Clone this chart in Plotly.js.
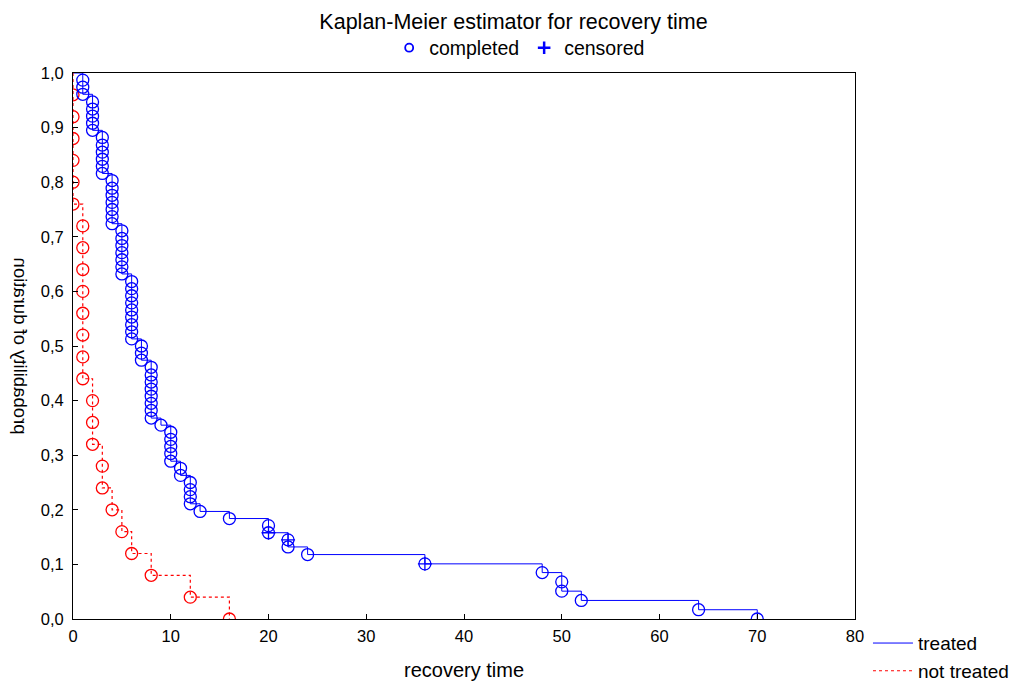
<!DOCTYPE html>
<html><head><meta charset="utf-8">
<script src="https://cdn.plot.ly/plotly-3.0.1.min.js"></script>
<style>body{margin:0;background:#fff}</style>
</head><body>
<div id="chart" style="width:1025px;height:681px"></div>
<script>
// Treated group: time of each completed recovery and survival value after it
const treatedTime = [1,1,1, 2,2,2,2,2, 3,3,3,3,3,3, 4,4,4,4,4,4,4, 5,5,5,5,5,5,5,
  6,6,6,6,6,6,6,6,6, 7,7,7, 8,8,8,8,8,8,8,8, 9, 10,10,10,10,10, 11,11, 12,12,12,12, 13,
  16, 20,20, 22,22, 24, 36, 48, 50,50, 52, 64, 70];
const treatedSurv = [0.987,0.974,0.961, 0.947,0.934,0.921,0.908,0.895,
  0.882,0.868,0.855,0.842,0.829,0.816, 0.803,0.789,0.776,0.763,0.750,0.737,0.724,
  0.711,0.697,0.684,0.671,0.658,0.645,0.632,
  0.618,0.605,0.592,0.579,0.566,0.553,0.539,0.526,0.513, 0.500,0.487,0.474,
  0.461,0.447,0.434,0.421,0.408,0.395,0.382,0.368, 0.355,
  0.342,0.329,0.316,0.303,0.289, 0.276,0.263, 0.250,0.237,0.224,0.211, 0.197,
  0.184, 0.171,0.158, 0.145,0.132, 0.118, 0.101, 0.085, 0.068,0.051, 0.034, 0.017, 0.000];
// Treated group: censored marks
const censTime = [20, 22, 36];
const censSurv = [0.158, 0.145, 0.101];
// Not treated group
const notTreatedTime = [0,0,0,0,0,0, 1,1,1,1,1,1,1,1, 2,2,2, 3,3, 4, 5, 6, 8, 12, 16];
const notTreatedSurv = [0.96,0.92,0.88,0.84,0.80,0.76, 0.72,0.68,0.64,0.60,0.56,0.52,0.48,0.44,
  0.40,0.36,0.32, 0.28,0.24, 0.20, 0.16, 0.12, 0.08, 0.04, 0.00];

const xTicks = [0,10,20,30,40,50,60,70,80];
const yTicks = [0,0.1,0.2,0.3,0.4,0.5,0.6,0.7,0.8,0.9,1.0];

function stepLine(t, s) {
  const xs = [0], ys = [1];
  for (let i = 0; i < t.length; i++) {
    if (i === t.length - 1 || t[i+1] !== t[i]) { xs.push(t[i]); ys.push(s[i]); }
  }
  return {xs, ys};
}
const blue = '#0000ff', red = '#ff0000';
const bl = stepLine(treatedTime, treatedSurv);
const rl = stepLine(notTreatedTime, notTreatedSurv);

const traces = [
  {x: bl.xs, y: bl.ys, mode:'lines', line:{shape:'hv', color:blue, width:1}, name:'treated', legend:'legend2'},
  {x: rl.xs, y: rl.ys, mode:'lines', line:{shape:'hv', color:red, width:1.2, dash:'dot'}, name:'not treated', legend:'legend2'},
  {x: notTreatedTime, y: notTreatedSurv, mode:'markers', marker:{symbol:'circle-open', size:12, color:red, line:{width:1.3}}, showlegend:false},
  {x: treatedTime, y: treatedSurv, mode:'markers', marker:{symbol:'circle-open', size:12, color:blue, line:{width:1.3}}, showlegend:false},
  {x: censTime, y: censSurv, mode:'markers', marker:{symbol:'cross-thin-open', size:10, color:blue, line:{width:1.3, color:blue}}, showlegend:false},
  {x:[null], y:[null], mode:'markers', marker:{symbol:'circle-open', size:8, color:blue, line:{width:1.8}}, name:'completed', legend:'legend'},
  {x:[null], y:[null], mode:'markers', marker:{symbol:'cross-thin-open', size:9, color:blue, line:{width:2.5, color:blue}}, name:'censored', legend:'legend'}
];

const axCommon = {showgrid:false, zeroline:false, ticks:'inside', ticklen:5, tickcolor:'#000', tickwidth:1};
const layout = {
  width:1025, height:681,
  margin:{l:73, r:170, t:73, b:62, autoexpand:false},
  paper_bgcolor:'#fff', plot_bgcolor:'#fff',
  font:{family:'Liberation Sans, Arial, sans-serif', size:16, color:'#000'},
  separators:',.',
  showlegend:true,
  title:{text:'Kaplan-Meier estimator for recovery time', xref:'container', x:0.501, xanchor:'center',
         yref:'container', y:1-21/681, yanchor:'middle', font:{size:21.5, color:'#000'}},
  xaxis:Object.assign({}, axCommon, {range:[0,80], tickvals:xTicks, showline:true, linecolor:'#000', linewidth:1, mirror:true,
         ticklabelstandoff:2, tickfont:{size:16.5},
         title:{text:'recovery time', standoff:20, font:{size:20}}}),
  yaxis:Object.assign({}, axCommon, {range:[0,1], tickvals:yTicks, tickformat:'.1f', showline:true, linecolor:'#000', linewidth:1, mirror:true,
         ticklabelstandoff:5, tickfont:{size:16.5},
         title:{text:'probability of duration', font:{size:18.5}}}),
  xaxis2:Object.assign({}, axCommon, {overlaying:'x', side:'top', anchor:'y', range:[0,80], tick0:2.65, dtick:9.69, showticklabels:false, showline:false}),
  yaxis2:Object.assign({}, axCommon, {overlaying:'y', side:'right', anchor:'x', range:[0,1], tick0:0.101, dtick:0.0855, showticklabels:false, showline:false}),
  legend:{orientation:'h', xref:'container', x:0.507, xanchor:'center', yref:'container', y:1-48/681, yanchor:'middle',
          font:{size:19.5}, bgcolor:'rgba(0,0,0,0)'},
  legend2:{xref:'paper', x:1.0166, xanchor:'left', yref:'paper', y:-0.0095, yanchor:'top', font:{size:19},
           itemwidth:40, bgcolor:'rgba(0,0,0,0)'}
};

Plotly.newPlot('chart', traces, layout, {staticPlot:true, displayModeBar:false}).then(function(gd){
  const t = gd.querySelector('.ytitle');
  if (!t) return;
  const tr = t.getAttribute('transform') || '';
  const svgRect = gd.querySelector('.main-svg').getBoundingClientRect();
  const r = t.getBoundingClientRect();
  const cx = r.left + r.width/2 - svgRect.left;
  const target = 20;
  t.setAttribute('transform', 'translate(' + (cx + target) + ',0) scale(-1,1) ' + tr);
});
</script>
</body></html>
